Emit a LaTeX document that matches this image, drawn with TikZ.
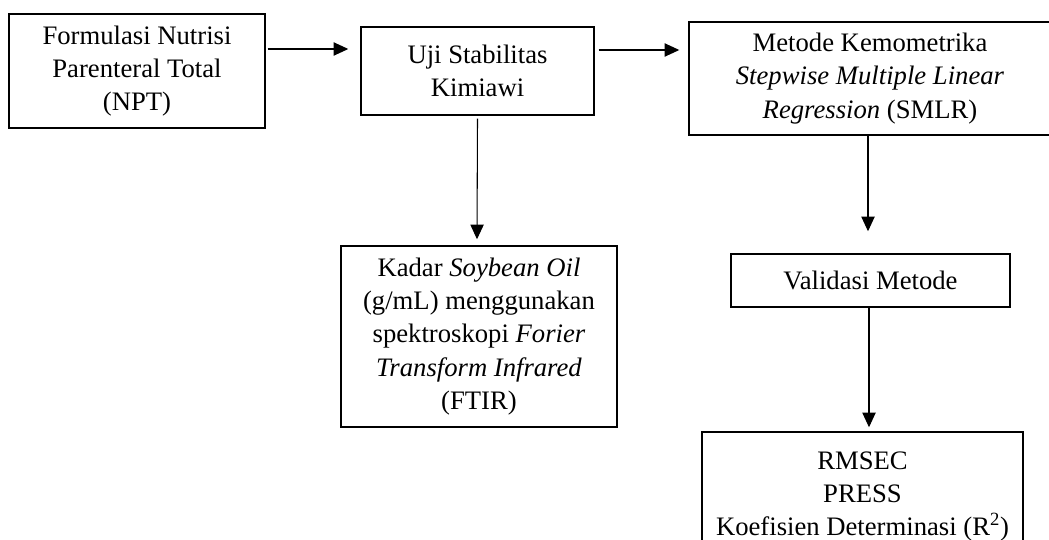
\documentclass[tikz,border=0pt]{standalone}
\usepackage{fontspec}
\setmainfont{Liberation Serif}
\usetikzlibrary{positioning,shapes,arrows.meta,calc}

\begin{document}
\begin{tikzpicture}[x=0.75pt,y=-0.75pt,
  kotak/.style={draw,line width=1.1pt,align=center,inner sep=0pt,font=\fontsize{20}{25}\selectfont},
  panah/.style={line width=0.8pt,-{Triangle[length=11pt,width=10pt]}}]
\useasboundingbox (0,0) rectangle (1049,539);
\node[kotak,minimum width=192pt,minimum height=85.5pt] (npt) at (137,71) {Formulasi Nutrisi\\Parenteral Total\\(NPT)};
\node[kotak,minimum width=174.75pt,minimum height=66pt] (uji) at (477.5,71) {Uji Stabilitas\\Kimiawi};
\node[kotak,minimum width=271.5pt,minimum height=84.75pt] (smlr) at (870,78.5) {Metode Kemometrika\\\textit{Stepwise Multiple Linear}\\\textit{Regression} (SMLR)};
\node[kotak,minimum width=207pt,minimum height=135.75pt] (kadar) at (479,336.5) {Kadar \textit{Soybean Oil}\\(g/mL) menggunakan\\spektroskopi \textit{Forier}\\\textit{Transform Infrared}\\(FTIR)};
\node[kotak,minimum width=209.25pt,minimum height=39.75pt] (valid) at (870.5,280.5) {Validasi Metode};
\node[kotak,minimum width=240.75pt,minimum height=96.75pt] (rmsec) at (862.5,496.5) {RMSEC\\PRESS\\Koefisien Determinasi (R\textsuperscript{2})};
% alur
\draw[panah] ($(npt.east)+(2,-22)$) -- ($(uji.west)+(-12,-22)$);
\draw[panah] ($(uji.east)+(4,-21)$) -- ($(smlr.west)+(-9,-28.5)$);
\draw[panah] ($(uji.south)+(0,3)$) -- ($(kadar.north)+(-2,-6)$);
\draw[panah] ($(smlr.south)+(-2,0)$) -- ($(valid.north)+(-2.5,-22)$);
\draw[panah] ($(valid.south)+(-1.5,0)$) -- ($(rmsec.north)+(6.5,-4)$);
\end{tikzpicture}
\end{document}
